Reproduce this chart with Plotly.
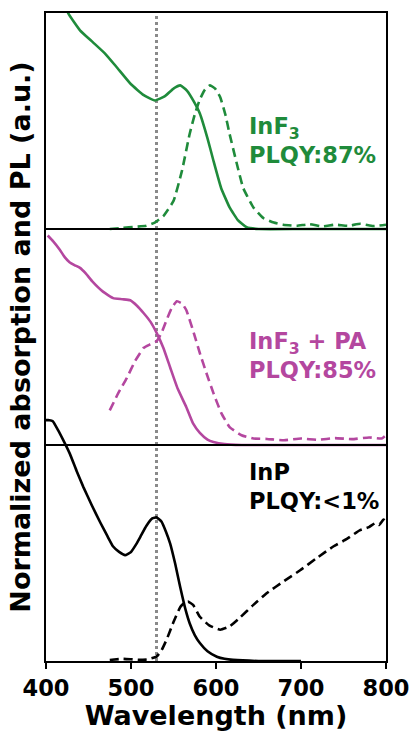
import plotly.graph_objects as go

# ---- data (normalized, each panel 0..1, offset by panel index) ----
inf3_abs_wl = [400, 410, 420, 426, 440, 455, 470, 483, 500, 515, 528, 540, 550, 558, 566, 574, 581, 590, 597, 606, 616, 626, 636, 650, 700, 750, 800]
inf3_abs    = [1.35, 1.22, 1.08, 1.00, 0.92, 0.865, 0.81, 0.75, 0.67, 0.62, 0.595, 0.615, 0.65, 0.665, 0.64, 0.59, 0.535, 0.42, 0.316, 0.19, 0.10, 0.04, 0.008, 0.0, 0.0, 0.0, 0.0]

inf3_pl_wl = [475, 490, 505, 518, 528, 538, 550, 560, 569, 575, 581, 587, 593, 599, 605, 611, 616, 624, 632, 644, 656, 668, 679, 695, 710, 725, 740, 755, 770, 785, 800]
inf3_pl    = [0.0, 0.005, 0.01, 0.015, 0.03, 0.06, 0.13, 0.27, 0.44, 0.53, 0.60, 0.645, 0.665, 0.65, 0.61, 0.53, 0.44, 0.31, 0.19, 0.10, 0.05, 0.03, 0.02, 0.015, 0.022, 0.012, 0.02, 0.015, 0.024, 0.014, 0.02]

pa_abs_wl = [402, 408, 416, 422, 428, 434, 440, 447, 455, 467, 479, 490, 499, 507, 515, 523, 530, 538, 546, 555, 565, 573, 581, 590, 597, 610, 630, 700, 800]
pa_abs    = [0.97, 0.945, 0.905, 0.87, 0.845, 0.832, 0.82, 0.793, 0.755, 0.71, 0.68, 0.675, 0.67, 0.645, 0.61, 0.57, 0.52, 0.45, 0.36, 0.26, 0.176, 0.10, 0.056, 0.025, 0.014, 0.004, 0.0, 0.0, 0.0]

pa_pl_wl = [475, 485, 495, 505, 515, 522, 530, 536, 542, 548, 554, 560, 565, 573, 581, 589, 597, 606, 616, 630, 644, 660, 680, 700, 720, 740, 760, 780, 795, 800]
pa_pl    = [0.16, 0.24, 0.31, 0.39, 0.45, 0.465, 0.48, 0.52, 0.58, 0.635, 0.665, 0.655, 0.625, 0.53, 0.425, 0.33, 0.24, 0.15, 0.083, 0.045, 0.03, 0.028, 0.022, 0.03, 0.024, 0.032, 0.027, 0.035, 0.03, 0.045]

inp_abs_wl = [400, 404, 408, 414, 420, 428, 436, 444, 454, 464, 472, 479, 486, 493, 500, 506, 511, 518, 525, 530, 536, 541, 546, 552, 558, 564, 569, 575, 581, 590, 601, 610, 620, 650, 700]
inp_abs    = [1.115, 1.115, 1.11, 1.07, 1.025, 0.96, 0.88, 0.805, 0.72, 0.64, 0.58, 0.53, 0.505, 0.49, 0.505, 0.54, 0.575, 0.625, 0.66, 0.665, 0.645, 0.60, 0.545, 0.45, 0.34, 0.24, 0.175, 0.12, 0.083, 0.045, 0.02, 0.01, 0.005, 0.0, 0.0]

inp_pl_wl = [475, 490, 500, 511, 520, 530, 536, 542, 550, 558, 563, 567, 573, 581, 592, 605, 616, 628, 644, 660, 680, 699, 718, 738, 754, 769, 780, 788, 792, 797, 800]
inp_pl    = [0.005, 0.01, 0.008, 0.005, 0.008, 0.02, 0.05, 0.10, 0.18, 0.25, 0.27, 0.275, 0.26, 0.205, 0.165, 0.145, 0.16, 0.20, 0.26, 0.315, 0.37, 0.42, 0.475, 0.53, 0.565, 0.605, 0.62, 0.64, 0.63, 0.655, 0.645]

x_ticks = [400, 500, 600, 700, 800]
guide_wl = 530

GREEN = "#1f8b3b"
MAGENTA = "#b4479f"
BLACK = "#000000"

fig = go.Figure()

def add(wl, vals, offset, color, dash):
    fig.add_trace(go.Scatter(
        x=wl, y=[v + offset for v in vals], mode="lines",
        line=dict(color=color, width=2.6, dash=dash, shape="spline", smoothing=0.4),
        showlegend=False, hoverinfo="skip"))

DASH = "9px,5px"
add(inp_abs_wl, inp_abs, 0, BLACK, "solid")
add(inp_pl_wl, inp_pl, 0, BLACK, DASH)
add(pa_abs_wl, pa_abs, 1, MAGENTA, "solid")
add(pa_pl_wl, pa_pl, 1, MAGENTA, DASH)
add(inf3_abs_wl, inf3_abs, 2, GREEN, "solid")
add(inf3_pl_wl, inf3_pl, 2, GREEN, DASH)

shapes = [
    dict(type="line", xref="x", yref="paper", x0=guide_wl, x1=guide_wl, y0=0, y1=1,
         line=dict(color="#8a8a8a", width=3, dash="dot"), layer="below"),
    dict(type="line", xref="paper", yref="y", x0=0, x1=1, y0=1, y1=1,
         line=dict(color="black", width=2)),
    dict(type="line", xref="paper", yref="y", x0=0, x1=1, y0=2, y1=2,
         line=dict(color="black", width=2)),
]

FONT = "DejaVu Sans"
ANN = 22.5
annotations = [
    dict(x=637, y=2.41, xref="x", yref="y", xanchor="left", yanchor="middle", align="left",
         text="<b>InF<sub>3</sub><br>PLQY:87%</b>", showarrow=False,
         font=dict(family=FONT, size=ANN, color=GREEN)),
    dict(x=636, y=1.415, xref="x", yref="y", xanchor="left", yanchor="middle", align="left",
         text="<b>InF<sub>3</sub> + PA<br>PLQY:85%</b>", showarrow=False,
         font=dict(family=FONT, size=ANN, color=MAGENTA)),
    dict(x=636, y=0.81, xref="x", yref="y", xanchor="left", yanchor="middle", align="left",
         text="<b>InP<br>PLQY:<1%</b>", showarrow=False,
         font=dict(family=FONT, size=ANN, color=BLACK)),
]

fig.update_layout(
    width=410, height=731,
    margin=dict(l=46, r=24, t=13, b=70),
    paper_bgcolor="white", plot_bgcolor="white",
    shapes=shapes, annotations=annotations,
    font=dict(family=FONT, color="black"),
    xaxis=dict(range=[400, 800], tickvals=x_ticks, ticktext=[f"<b>{t}</b>" for t in x_ticks],
               ticks="outside", ticklen=6, tickwidth=2, tickcolor="black",
               showline=True, linewidth=2, linecolor="black", mirror=True,
               showgrid=False, zeroline=False, automargin=False,
               ticklabeloverflow="allow",
               tickfont=dict(family=FONT, size=22.5, color="black"),
               title=dict(text="<b>Wavelength (nm)</b>", standoff=12,
                          font=dict(family=FONT, size=27, color="black"))),
    yaxis=dict(range=[0, 3], showticklabels=False, ticks="",
               showline=True, linewidth=2, linecolor="black", mirror=True,
               showgrid=False, zeroline=False, automargin=False,
               title=dict(text="<b>Normalized absorption and PL (a.u.)</b>", standoff=6,
                          font=dict(family=FONT, size=27, color="black"))),
)

fig.write_html("out.html")
